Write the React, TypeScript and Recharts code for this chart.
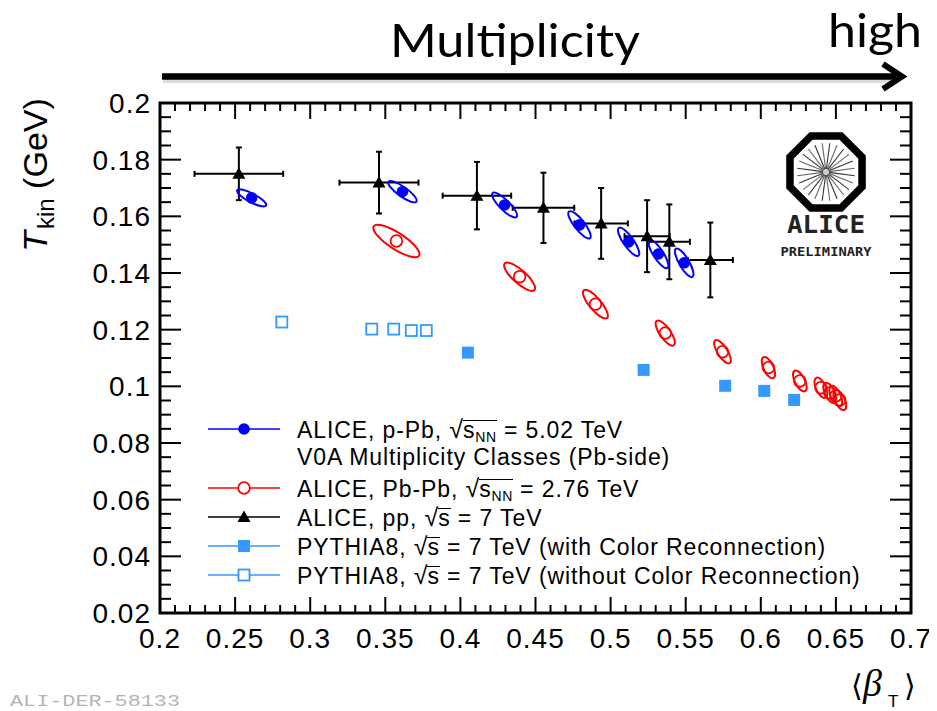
import React from 'react';
import { ScatterChart, Scatter, XAxis, YAxis, ErrorBar, ReferenceArea } from 'recharts';

// ---------- data ----------
// ALICE p-Pb 5.02 TeV (blue filled circles + correlated-uncertainty ellipses)
const PPB_X = [0.261, 0.3614, 0.4294, 0.4793, 0.512, 0.5318, 0.549];
const PPB_Y = [0.1665, 0.1687, 0.164, 0.157, 0.151, 0.1467, 0.1436];
const PPB_ELL_DX = [0.0096, 0.0093, 0.008, 0.007, 0.0065, 0.006, 0.0055];
const PPB_ELL_DY = [0.0027, 0.0035, 0.0042, 0.0047, 0.0049, 0.0049, 0.005];
const PPB_ELL_R = [0.27, 0.28, 0.3, 0.3, 0.3, 0.3, 0.3];

// ALICE Pb-Pb 2.76 TeV (red open circles + ellipses)
const PBPB_X = [0.3574, 0.4394, 0.4899, 0.5364, 0.5745, 0.6051, 0.626, 0.64, 0.6459, 0.6499, 0.6526];
const PBPB_Y = [0.1513, 0.1387, 0.129, 0.1188, 0.1122, 0.1066, 0.1019, 0.0995, 0.0977, 0.0966, 0.0952];
const PBPB_ELL_DX = [0.0151, 0.0099, 0.0077, 0.0057, 0.0048, 0.0033, 0.0035, 0.0031, 0.0031, 0.0031, 0.0031];
const PBPB_ELL_DY = [0.0052, 0.0047, 0.0049, 0.0043, 0.004, 0.0037, 0.0036, 0.0035, 0.0035, 0.0035, 0.0035];
const PBPB_ELL_R = [0.3, 0.33, 0.33, 0.36, 0.37, 0.43, 0.43, 0.45, 0.45, 0.45, 0.45];

// ALICE pp 7 TeV (black triangles with x/y error bars)
const PP_X = [0.2525, 0.3458, 0.411, 0.4553, 0.4937, 0.5243, 0.5391, 0.5664];
const PP_Y = [0.175, 0.1719, 0.1673, 0.163, 0.1575, 0.153, 0.151, 0.1446];
const PP_EX = [0.0295, 0.0263, 0.0228, 0.0205, 0.0178, 0.015, 0.0137, 0.015];
const PP_EY = [0.0093, 0.0109, 0.0119, 0.0124, 0.0125, 0.0127, 0.0132, 0.0132];

// PYTHIA8 with Color Reconnection (filled squares)
const PY_CR_X = [0.405, 0.522, 0.5763, 0.6023, 0.6222];
const PY_CR_Y = [0.1119, 0.1058, 0.1002, 0.0984, 0.0952];

// PYTHIA8 without Color Reconnection (open squares)
const PY_NOCR_X = [0.2811, 0.341, 0.3556, 0.3673, 0.3773];
const PY_NOCR_Y = [0.1227, 0.1202, 0.1202, 0.1197, 0.1197];

// axes
const X_DOMAIN = [0.2, 0.7];
const Y_DOMAIN = [0.02, 0.2];
const X_MAJOR = [0.2, 0.25, 0.3, 0.35, 0.4, 0.45, 0.5, 0.55, 0.6, 0.65, 0.7];
const X_TICK_LABELS = ['0.2', '0.25', '0.3', '0.35', '0.4', '0.45', '0.5', '0.55', '0.6', '0.65', '0.7'];
const Y_MAJOR = [0.02, 0.04, 0.06, 0.08, 0.1, 0.12, 0.14, 0.16, 0.18, 0.2];
const Y_TICK_LABELS = ['0.02', '0.04', '0.06', '0.08', '0.1', '0.12', '0.14', '0.16', '0.18', '0.2'];
const X_MINOR_STEP = 0.01;
const Y_MINOR_STEP = 0.005;

const LEGEND_LABELS = [
  'ALICE, p-Pb, ',
  'V0A Multiplicity Classes (Pb-side)',
  'ALICE, Pb-Pb, ',
  'ALICE, pp, ',
  'PYTHIA8, ',
  'PYTHIA8, ',
];

// ---------- layout ----------
const CHART_W = 929;
const CHART_H = 703;
const PLOT_LEFT = 152;
const PLOT_TOP = 95;
const PLOT_W = 751;
const PLOT_H = 510;
const Y_AXIS_W = 60;
const X_AXIS_H = 30;
const MARGIN = {
  top: PLOT_TOP,
  left: PLOT_LEFT - Y_AXIS_W,
  right: CHART_W - PLOT_LEFT - PLOT_W,
  bottom: CHART_H - PLOT_TOP - PLOT_H - X_AXIS_H,
};
const KX = PLOT_W / (X_DOMAIN[1] - X_DOMAIN[0]);
const KY = PLOT_H / (Y_DOMAIN[1] - Y_DOMAIN[0]);

const BLUE = '#0000ff';
const RED = '#ff0000';
const PY = '#3399ff';
const FONT = '"Liberation Sans", Arial, Helvetica, sans-serif';

const X_TICKS = Array.from({ length: Math.round((X_DOMAIN[1] - X_DOMAIN[0]) / X_MINOR_STEP) + 1 }, (_, i) =>
  +(X_DOMAIN[0] + i * X_MINOR_STEP).toFixed(3)
);
const Y_TICKS = Array.from({ length: Math.round((Y_DOMAIN[1] - Y_DOMAIN[0]) / Y_MINOR_STEP) + 1 }, (_, i) =>
  +(Y_DOMAIN[0] + i * Y_MINOR_STEP).toFixed(4)
);

const ppbData = PPB_X.map((x, i) => ({ x, y: PPB_Y[i], edx: PPB_ELL_DX[i], edy: PPB_ELL_DY[i], er: PPB_ELL_R[i] }));
const pbpbData = PBPB_X.map((x, i) => ({ x, y: PBPB_Y[i], edx: PBPB_ELL_DX[i], edy: PBPB_ELL_DY[i], er: PBPB_ELL_R[i] }));
const ppData = PP_X.map((x, i) => ({ x, y: PP_Y[i], ex: PP_EX[i], ey: PP_EY[i] }));
const pyCrData = PY_CR_X.map((x, i) => ({ x, y: PY_CR_Y[i] }));
const pyNoCrData = PY_NOCR_X.map((x, i) => ({ x, y: PY_NOCR_Y[i] }));

// ---------- ticks ----------
function majorIndex(list: number[], v: number) {
  return list.findIndex((m) => Math.abs(m - v) < 1e-6);
}

function XTick(props: any) {
  const { x, y, payload } = props;
  const idx = majorIndex(X_MAJOR, payload.value);
  const len = idx >= 0 ? 16 : 8;
  return (
    <g>
      <line x1={x} x2={x} y1={y} y2={y - len} stroke="#000" strokeWidth={2} />
      <line x1={x} x2={x} y1={y - PLOT_H} y2={y - PLOT_H + len} stroke="#000" strokeWidth={2} />
      {idx >= 0 && (
        <text x={x} y={y + 35} textAnchor="middle" fontSize={28} letterSpacing={1} fontFamily={FONT} fill="#000">
          {X_TICK_LABELS[idx]}
        </text>
      )}
    </g>
  );
}

function YTick(props: any) {
  const { x, y, payload } = props;
  const idx = majorIndex(Y_MAJOR, payload.value);
  const len = idx >= 0 ? 21 : 11;
  return (
    <g>
      <line x1={x} x2={x + len} y1={y} y2={y} stroke="#000" strokeWidth={2} />
      <line x1={x + PLOT_W} x2={x + PLOT_W - len} y1={y} y2={y} stroke="#000" strokeWidth={2} />
      {idx >= 0 && (
        <text x={x - 9} y={y + 10} textAnchor="end" fontSize={28} letterSpacing={1} fontFamily={FONT} fill="#000">
          {Y_TICK_LABELS[idx]}
        </text>
      )}
    </g>
  );
}

// ---------- shapes ----------
function Ell({ cx, cy, edx, edy, er, color }: any) {
  const px = edx * KX;
  const py = edy * KY;
  const a = Math.hypot(px, py);
  const ang = (Math.atan2(py, px) * 180) / Math.PI;
  return (
    <ellipse
      cx={cx}
      cy={cy}
      rx={a}
      ry={a * er}
      transform={`rotate(${ang} ${cx} ${cy})`}
      fill="none"
      stroke={color}
      strokeWidth={2}
    />
  );
}

function PPbShape(props: any) {
  const { cx, cy, payload } = props;
  return (
    <g>
      <Ell cx={cx} cy={cy} edx={payload.edx} edy={payload.edy} er={payload.er} color={BLUE} />
      <circle cx={cx} cy={cy} r={5.8} fill={BLUE} />
    </g>
  );
}

function PbPbShape(props: any) {
  const { cx, cy, payload } = props;
  return (
    <g>
      <Ell cx={cx} cy={cy} edx={payload.edx} edy={payload.edy} er={payload.er} color={RED} />
      <circle cx={cx} cy={cy} r={5.8} fill="none" stroke={RED} strokeWidth={1.8} />
    </g>
  );
}

function Triangle({ cx, cy }: any) {
  return <polygon points={`${cx},${cy - 6.5} ${cx - 6.5},${cy + 5} ${cx + 6.5},${cy + 5}`} fill="#000" />;
}

function FilledSquare({ cx, cy }: any) {
  return <rect x={cx - 6} y={cy - 6} width={12} height={12} fill={PY} />;
}

function OpenSquare({ cx, cy }: any) {
  return <rect x={cx - 5.5} y={cy - 5.5} width={11} height={11} fill="none" stroke={PY} strokeWidth={1.8} />;
}

// ---------- legend ----------
const LEG_LINE_X1 = 200;
const LEG_LINE_X2 = 272;
const LEG_MARK_X = 236;
const LEG_TEXT_X = 289;

function Sqrt({ sub }: { sub?: string }) {
  return (
    <>
      <span style={{ fontSize: 25 }}>√</span>
      <span
        style={{
          display: 'inline-block',
          borderTop: '1.3px solid #000',
          lineHeight: '18px',
          marginLeft: -1,
        }}
      >
        s
        {sub && (
          <span style={{ fontSize: 14, verticalAlign: '-4px', lineHeight: '10px', letterSpacing: 0.5 }}>{sub}</span>
        )}
      </span>
    </>
  );
}

function LegendText({ top, children }: any) {
  return (
    <div
      style={{
        position: 'absolute',
        left: LEG_TEXT_X,
        top,
        fontFamily: FONT,
        fontSize: 23,
        letterSpacing: 0.9,
        lineHeight: '22px',
        whiteSpace: 'nowrap',
        color: '#000',
      }}
    >
      {children}
    </div>
  );
}

function LegendBox() {
  const rows = [421, 480, 509, 538, 567];
  return (
    <div style={{ position: 'absolute', left: 0, top: 0, width: CHART_W, height: CHART_H, pointerEvents: 'none' }}>
      <svg width={CHART_W} height={CHART_H} style={{ position: 'absolute', left: 0, top: 0 }}>
        <line x1={LEG_LINE_X1} x2={LEG_LINE_X2} y1={rows[0]} y2={rows[0]} stroke={BLUE} strokeWidth={1.5} />
        <circle cx={LEG_MARK_X} cy={rows[0]} r={5.8} fill={BLUE} />
        <line x1={LEG_LINE_X1} x2={LEG_LINE_X2} y1={rows[1]} y2={rows[1]} stroke={RED} strokeWidth={1.5} />
        <circle cx={LEG_MARK_X} cy={rows[1]} r={5.8} fill="#fff" stroke={RED} strokeWidth={1.8} />
        <line x1={LEG_LINE_X1} x2={LEG_LINE_X2} y1={rows[2]} y2={rows[2]} stroke="#000" strokeWidth={1.5} />
        <Triangle cx={LEG_MARK_X} cy={rows[2]} />
        <line x1={LEG_LINE_X1} x2={LEG_LINE_X2} y1={rows[3]} y2={rows[3]} stroke={PY} strokeWidth={1.5} />
        <FilledSquare cx={LEG_MARK_X} cy={rows[3]} />
        <line x1={LEG_LINE_X1} x2={LEG_LINE_X2} y1={rows[4]} y2={rows[4]} stroke={PY} strokeWidth={1.5} />
        <rect x={LEG_MARK_X - 5.5} y={rows[4] - 5.5} width={11} height={11} fill="#fff" stroke={PY} strokeWidth={1.8} />
      </svg>
      <LegendText top={410}>
        {LEGEND_LABELS[0]}
        <Sqrt sub="NN" /> = 5.02 TeV
      </LegendText>
      <LegendText top={438}>{LEGEND_LABELS[1]}</LegendText>
      <LegendText top={469}>
        {LEGEND_LABELS[2]}
        <Sqrt sub="NN" /> = 2.76 TeV
      </LegendText>
      <LegendText top={498}>
        {LEGEND_LABELS[3]}
        <Sqrt /> = 7 TeV
      </LegendText>
      <LegendText top={527}>
        {LEGEND_LABELS[4]}
        <Sqrt /> = 7 TeV (with Color Reconnection)
      </LegendText>
      <LegendText top={556}>
        {LEGEND_LABELS[5]}
        <Sqrt /> = 7 TeV (without Color Reconnection)
      </LegendText>
    </div>
  );
}

// ---------- overlay (titles, arrow, logo) ----------
function Logo() {
  const cx = 818;
  const cy = 164;
  const R = 39;
  const pts = Array.from({ length: 8 }, (_, k) => {
    const a = ((22.5 + 45 * k) * Math.PI) / 180;
    return `${cx + R * Math.cos(a)},${cy + R * Math.sin(a)}`;
  }).join(' ');
  const rays = Array.from({ length: 24 }, (_, k) => {
    const a = ((7.5 + 15 * k) * Math.PI) / 180;
    return (
      <line
        key={k}
        x1={cx + 3 * Math.cos(a)}
        y1={cy + 3 * Math.sin(a)}
        x2={cx + 29 * Math.cos(a)}
        y2={cy + 29 * Math.sin(a)}
        stroke={k % 2 ? '#666' : '#333'}
        strokeWidth={1.1}
      />
    );
  });
  return (
    <g>
      <defs>
        <radialGradient id="lg">
          <stop offset="0%" stopColor="#bbb" />
          <stop offset="100%" stopColor="#fff" stopOpacity={0} />
        </radialGradient>
      </defs>
      <circle cx={cx} cy={cy} r={10} fill="url(#lg)" />
      {rays}
      <polygon points={pts} fill="none" stroke="#000" strokeWidth={7.5} strokeLinejoin="miter" />
      <text
        x={cx}
        y={225}
        textAnchor="middle"
        fontFamily='"DejaVu Sans Mono", monospace'
        fontWeight="bold"
        fontSize={24}
        textLength={78}
        lengthAdjust="spacingAndGlyphs"
        fill="#222"
      >
        ALICE
      </text>
      <text
        x={cx}
        y={248}
        textAnchor="middle"
        fontFamily='"DejaVu Sans Mono", monospace'
        fontWeight="bold"
        fontSize={13}
        textLength={91}
        lengthAdjust="spacingAndGlyphs"
        fill="#222"
      >
        PRELIMINARY
      </text>
    </g>
  );
}

function Overlay() {
  return (
    <svg
      width={CHART_W}
      height={CHART_H}
      style={{ position: 'absolute', left: 0, top: 0, pointerEvents: 'none', overflow: 'visible' }}
    >
      {/* multiplicity arrow */}
      <line x1={155} x2={888} y1={72} y2={72} stroke="#999" strokeWidth={6} opacity={0.35} />
      <line x1={154} x2={888} y1={68.5} y2={68.5} stroke="#000" strokeWidth={6.5} />
      <polyline points="875,56 894,68.5 875,81" fill="none" stroke="#000" strokeWidth={6} strokeLinejoin="miter" />
      <text
        x={382}
        y={49}
        fontFamily='Lato, "Open Sans", sans-serif'
        fontSize={46}
        textLength={250}
        lengthAdjust="spacingAndGlyphs"
        fill="#000"
      >
        Multiplicity
      </text>
      <text
        x={820}
        y={39}
        fontFamily='Lato, "Open Sans", sans-serif'
        fontSize={46}
        textLength={94}
        lengthAdjust="spacingAndGlyphs"
        fill="#000"
      >
        high
      </text>

      {/* y axis title */}
      <g transform="translate(39,167) rotate(-90)">
        <text textAnchor="middle" fontFamily={FONT} fontSize={34} fill="#000">
          <tspan fontStyle="italic">T</tspan>
          <tspan fontSize={24} dy={7} dx={2}>
            kin
          </tspan>
          <tspan dy={-7}> (GeV)</tspan>
        </text>
      </g>

      {/* x axis title */}
      <text x={843} y={688} fontFamily='"DejaVu Sans", sans-serif' fontSize={30} fill="#000">
        ⟨
      </text>
      <text x={855} y={688} fontFamily='"Liberation Serif", serif' fontStyle="italic" fontSize={38} fill="#000">
        β
      </text>
      <text x={880} y={699} fontFamily={FONT} fontSize={17} fill="#000">
        T
      </text>
      <text x={896} y={688} fontFamily='"DejaVu Sans", sans-serif' fontSize={30} fill="#000">
        ⟩
      </text>

      {/* logo */}
      <Logo />

      {/* watermark */}
      <text
        x={2}
        y={698}
        fontFamily='"Liberation Mono", "DejaVu Sans Mono", monospace'
        fontSize={16}
        textLength={170}
        lengthAdjust="spacingAndGlyphs"
        fill="#b5b5b5"
      >
        ALI-DER-58133
      </text>
    </svg>
  );
}

export default function App() {
  return (
    <div style={{ position: 'relative', width: CHART_W, height: CHART_H, background: '#fff' }}>
      <ScatterChart width={CHART_W} height={CHART_H} margin={MARGIN}>
        <XAxis
          type="number"
          dataKey="x"
          domain={X_DOMAIN}
          ticks={X_TICKS}
          interval={0}
          tick={<XTick />}
          tickLine={false}
          axisLine={false}
          tickSize={0}
          tickMargin={0}
          height={X_AXIS_H}
          allowDataOverflow
        />
        <YAxis
          type="number"
          dataKey="y"
          domain={Y_DOMAIN}
          ticks={Y_TICKS}
          interval={0}
          tick={<YTick />}
          tickLine={false}
          axisLine={false}
          tickSize={0}
          tickMargin={0}
          width={Y_AXIS_W}
          allowDataOverflow
        />
        <ReferenceArea
          x1={X_DOMAIN[0]}
          x2={X_DOMAIN[1]}
          y1={Y_DOMAIN[0]}
          y2={Y_DOMAIN[1]}
          fill="none"
          stroke="#000"
          strokeWidth={3}
          ifOverflow="visible"
        />
        <Scatter name="ALICE Pb-Pb" data={pbpbData} shape={PbPbShape} isAnimationActive={false} />
        <Scatter name="ALICE p-Pb" data={ppbData} shape={PPbShape} isAnimationActive={false} />
        <Scatter name="PYTHIA8 CR" data={pyCrData} shape={FilledSquare} isAnimationActive={false} />
        <Scatter name="PYTHIA8 no CR" data={pyNoCrData} shape={OpenSquare} isAnimationActive={false} />
        <Scatter name="ALICE pp" data={ppData} shape={Triangle} isAnimationActive={false}>
          <ErrorBar dataKey="ex" direction="x" width={3} stroke="#000" strokeWidth={2} isAnimationActive={false} />
          <ErrorBar dataKey="ey" direction="y" width={3} stroke="#000" strokeWidth={2} isAnimationActive={false} />
        </Scatter>
      </ScatterChart>
      <Overlay />
      <LegendBox />
    </div>
  );
}
